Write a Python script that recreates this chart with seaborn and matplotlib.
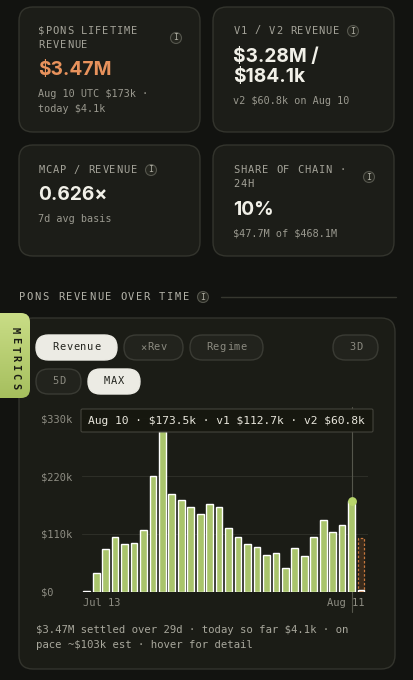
import numpy as np
import pandas as pd
import matplotlib.pyplot as plt
from matplotlib.patches import FancyBboxPatch, Circle
from matplotlib.ticker import FuncFormatter
import seaborn as sns

# daily settled revenue ($k), Jul 13 .. Aug 10; Aug 11 is today (partial)
days = pd.date_range('2025-07-13', '2025-08-11').strftime('%b %d').tolist()
revenue_k = [1.5, 35, 82, 105, 91, 93, 117, 220, 306, 186, 174, 161, 147, 166, 161,
             122, 105, 90, 86, 69, 73, 46, 84, 67, 105, 136, 113, 126, 173.5]
today_k = 4.1
pace_k = 103
hover_v1_k = 112.7
hover_v2_k = 60.8
y_ticks_k = [0, 110, 220, 330]

W, H = 414, 680
BG = '#121310'
CARD = '#1c1d18'
EDGE = '#33342d'
LABEL = '#a4a399'
SUB = '#9a998f'
WHITE = '#f1f0e8'
ORANGE = '#e8925c'
GREEN = '#a9c46b'
MONO = 'DejaVu Sans Mono'
SANS = 'Inter'

sns.set_theme(style='dark')
plt.rcParams['font.family'] = MONO
plt.rcParams['text.parse_math'] = False

fig = plt.figure(figsize=(W / 100, H / 100), dpi=100)
fig.patch.set_facecolor(BG)

# background layer in pixel coordinates
bg = fig.add_axes([0, 0, 1, 1], zorder=0)
bg.set_xlim(0, W)
bg.set_ylim(H, 0)
bg.axis('off')
bg.set_facecolor(BG)


def box(x0, y0, x1, y1, r, fc=CARD, ec=EDGE, lw=1.0, z=1):
    p = FancyBboxPatch((x0, y0), x1 - x0, y1 - y0,
                       boxstyle=f'round,pad=0,rounding_size={r}',
                       fc=fc, ec=ec, lw=lw, zorder=z)
    bg.add_patch(p)
    return p


def txt(x, y, s, size=7.5, color=SUB, family=MONO, weight='normal', ha='left', z=5):
    bg.text(x, y, s, fontsize=size, color=color, family=family, weight=weight,
            ha=ha, va='center', zorder=z, parse_math=False)


def tracked(x, y, s, step=7.1, size=7.5, color=LABEL, weight='normal', vertical=False, z=5):
    for i, ch in enumerate(s):
        if vertical:
            bg.text(x, y + (i + 0.5) * step, ch, rotation=-90, fontsize=size, color=color,
                    family=MONO, weight=weight, ha='center', va='center', zorder=z)
        else:
            bg.text(x + (i + 0.5) * step, y, ch, fontsize=size, color=color,
                    family=MONO, weight=weight, ha='center', va='center', zorder=z,
                    parse_math=False)


def info(x, y):
    bg.add_patch(Circle((x, y), 5.5, fc='#25261f', ec='#55564d', lw=0.8, zorder=5))
    bg.text(x, y, 'I', fontsize=6, color='#b0afa4', family=MONO, ha='center', va='center', zorder=6)


def pill(x0, y0, x1, y1, label, active):
    if active:
        box(x0, y0, x1, y1, (y1 - y0) / 2, fc='#ecebe4', ec='#ecebe4', z=4)
        col = '#23241e'
    else:
        box(x0, y0, x1, y1, (y1 - y0) / 2, fc='#22231d', ec='#3a3b34', z=4)
        col = '#8b8a80'
    step = 7.0
    tracked((x0 + x1) / 2 - len(label) * step / 2, (y0 + y1) / 2, label, step=step,
            size=7.5, color=col)


# stat cards
box(19, 7, 200, 132, 14)
box(213, 7, 394, 132, 14)
box(19, 145, 200, 256, 14)
box(213, 145, 394, 256, 14)

VAL = 13.8
tracked(38, 30.5, '$PONS LIFETIME')
tracked(38, 45, 'REVENUE')
info(176, 38)
txt(38, 70, '$3.47M', size=VAL, color=ORANGE, family=SANS, weight='bold')
txt(38, 94, 'Aug 10 UTC $173k ·', size=7.3)
txt(38, 109, 'today $4.1k', size=7.3)

tracked(233, 30.5, 'V1 / V2 REVENUE')
info(353, 31)
txt(233, 57, '$3.28M /', size=VAL, color=WHITE, family=SANS, weight='bold')
txt(233, 77, '$184.1k', size=VAL, color=WHITE, family=SANS, weight='bold')
txt(233, 101, 'v2 $60.8k on Aug 10', size=7.3)

tracked(38, 170, 'MCAP / REVENUE')
info(151, 170)
txt(38, 195, '0.626×', size=VAL, color=WHITE, family=SANS, weight='bold')
txt(38, 219, '7d avg basis', size=7.3)

tracked(233, 170, 'SHARE OF CHAIN ·')
tracked(233, 184, '24H')
info(369, 177)
txt(233, 210, '10%', size=VAL, color=WHITE, family=SANS, weight='bold')
txt(233, 233, '$47.7M of $468.1M', size=7.3)

# section header
tracked(18, 297, 'PONS REVENUE OVER TIME', step=7.8, color='#b3b2a8')
info(203, 297)
bg.plot([221, 396], [297, 297], color='#36372f', lw=1, zorder=2)

# chart card
box(19, 318, 395, 669, 14, fc='#1b1c16')

# metrics tab with gradient
tab = box(-14, 313, 30, 398, 9, fc='none', ec='none', z=6)
grad = np.linspace(0, 1, 100).reshape(-1, 1)
im = bg.imshow(grad, extent=(-14, 30, 398, 313),
               cmap=sns.blend_palette(['#c9dd86', '#a6bf5e'], as_cmap=True),
               aspect='auto', zorder=6)
im.set_clip_path(tab)
bg.set_xlim(0, W)
bg.set_ylim(H, 0)
tracked(15, 326, 'METRICS', step=9.2, size=7.5, color='#1a1b14', weight='bold', vertical=True, z=7)

# toggle pills
pill(36, 335, 117, 360, 'Revenue', True)
pill(124, 335, 183, 360, '×Rev', False)
pill(190, 335, 263, 360, 'Regime', False)
pill(333, 335, 378, 360, '3D', False)
pill(36, 369, 81, 394, '5D', False)
pill(88, 369, 140, 394, 'MAX', True)

# bar chart
y0, y1 = 591.7, 418.3
x0, x1 = 81.5, 368.1
ax = fig.add_axes([x0 / W, (H - y0) / H, (x1 - x0) / W, (y0 - y1) / H], zorder=2)
ax.set_facecolor('none')

settled = pd.DataFrame({'day': days[:-1], 'revenue': np.array(revenue_k) * 1000})
sns.barplot(data=settled, x='day', y='revenue', order=days, color=GREEN, saturation=1,
            width=0.71, errorbar=None, ax=ax, zorder=3)
sns.barplot(x=[days[-1]], y=[pace_k * 1000], order=days, color='#3a2b1c', saturation=1,
            width=0.71, errorbar=None, ax=ax, edgecolor='#c7773c', linestyle=(0, (2, 1.5)),
            linewidth=0.9, zorder=3)
sns.barplot(x=[days[-1]], y=[today_k * 1000], order=days, color='#d8803e', saturation=1,
            width=0.71, errorbar=None, ax=ax, zorder=4)

hover = len(revenue_k) - 1
ax.axvline(hover, ymin=-0.117, ymax=1.065, color='#55564c', lw=0.8, clip_on=False, zorder=2)
ax.scatter([hover], [revenue_k[-1] * 1000], s=28, color='#b8d66c', zorder=5, clip_on=False)

ax.set_xlim(-0.55, 29.75)
ax.set_ylim(0, y_ticks_k[-1] * 1000)
ax.set_yticks([v * 1000 for v in y_ticks_k])
ax.yaxis.set_major_formatter(FuncFormatter(lambda v, p: '$0' if v == 0 else f'${v / 1000:.0f}k'))
ax.set_xticks([-0.355, len(days) - 1 + 0.355])
ax.set_xticklabels([days[0], days[-1]])
for lab, ha in zip(ax.get_xticklabels(), ['left', 'right']):
    lab.set_ha(ha)
for lab in ax.get_yticklabels():
    lab.set_ha('left')
ax.tick_params(axis='y', length=0, pad=29.4, labelsize=7.5, labelcolor='#8f8e84')
ax.tick_params(axis='x', length=0, pad=4.5, labelsize=7.5, labelcolor='#8f8e84')
ax.set_xlabel('')
ax.set_ylabel('')
ax.grid(False)
ax.yaxis.grid(True, color='#2d2e27', lw=0.8)
ax.set_axisbelow(True)
for s in ax.spines.values():
    s.set_visible(False)

# hover tooltip
top = fig.add_axes([0, 0, 1, 1], zorder=3)
top.set_xlim(0, W)
top.set_ylim(H, 0)
top.axis('off')
top.patch.set_alpha(0)
top.add_patch(FancyBboxPatch((81, 409), 292, 23, boxstyle='round,pad=0,rounding_size=1.5',
                             fc='#16170f', ec='#46463e', lw=0.8, alpha=0.95))
tip = f'{days[-2]} · ${revenue_k[-1]:.1f}k · v1 ${hover_v1_k}k · v2 ${hover_v2_k}k'
top.text(88, 421, tip, fontsize=8.1, color='#e8e6dc', family=MONO, ha='left', va='center',
         parse_math=False)

# footnote
txt(36, 630, '$3.47M settled over 29d · today so far $4.1k · on', size=7.7, color='#a8a79c')
txt(36, 645, 'pace ~$103k est · hover for detail', size=7.7, color='#a8a79c')

fig.savefig('out.png', dpi=100, facecolor=BG)
